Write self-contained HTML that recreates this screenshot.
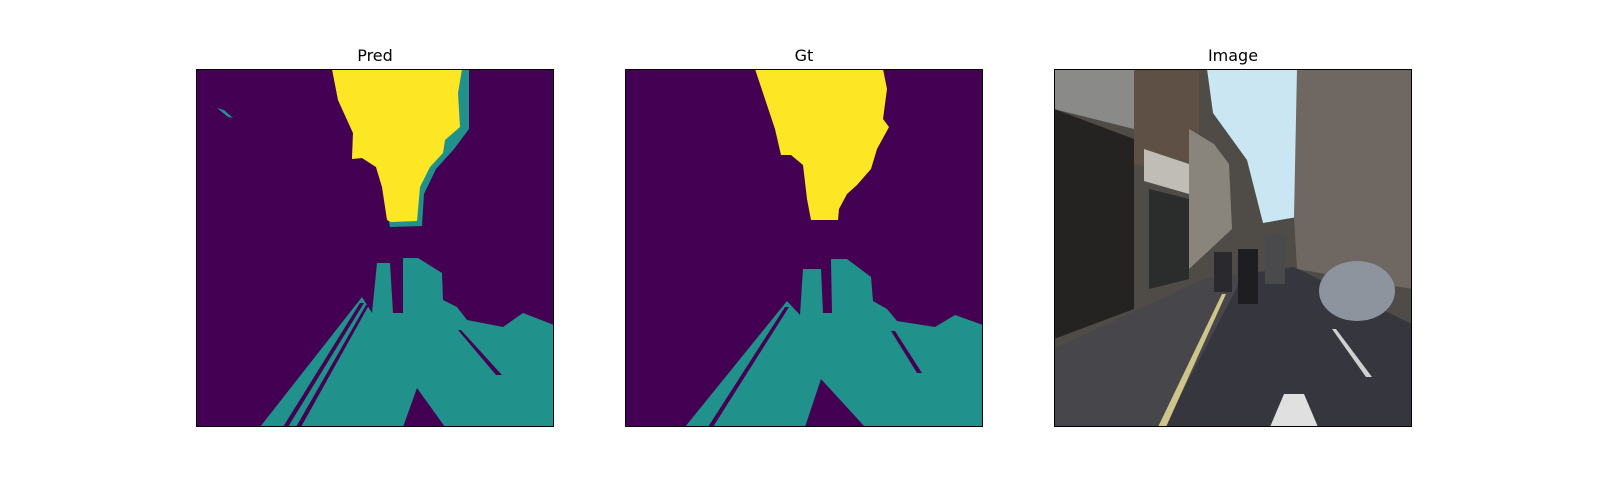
<!DOCTYPE html>
<html><head><meta charset="utf-8"><style>
html,body{margin:0;padding:0;background:#fff;width:1600px;height:500px;overflow:hidden;font-family:"Liberation Sans","DejaVu Sans",sans-serif}
</style></head><body>
<svg width="1600" height="500" viewBox="0 0 1600 500" xmlns="http://www.w3.org/2000/svg">
<defs>
<clipPath id="c"><rect x="0" y="0" width="358" height="358"/></clipPath>
</defs>

<text x="375" y="61" font-size="16" text-anchor="middle" fill="#000" font-family="DejaVu Sans, sans-serif">Pred</text>
<g transform="translate(196,69)" clip-path="url(#c)">
<rect width="358" height="358" fill="#440154"/>
<polygon fill="#21918c" points="136,0 273,0 273,60 258,80 240,100 228,125 226,157 194,158 186,118 180,98 166,89 156,90 157,64 142,31"/>
<polygon fill="#fde725" points="136,0 266,0 262,24 264,58 249,71 247,84 234,98 224,118 221,152 195,153 191,151 186,118 180,98 166,89 156,90 157,64 142,31"/>
<polygon fill="#21918c" points="21,39 28,41 37,49 32,48"/>
<polygon fill="#21918c" points="64,358 166,228 176,244 181,194 194,194 197,244 207,244 207,189 222,189 246,204 247,231 261,238 271,251 307,258 327,244 358,256 358,358"/>
<polygon fill="#440154" points="221,319 207,358 249,358"/>
<polygon fill="#440154" points="164,234 168,234 92,358 87,358"/>
<polygon fill="#440154" points="170,236 173,236 105,358 100,358"/>
<polygon fill="#440154" points="262,261 265,261 306,306 300,306"/>
</g>
<rect x="196.5" y="69.5" width="357" height="357" fill="none" stroke="#000" stroke-width="1"/>

<text x="804" y="61" font-size="16" text-anchor="middle" fill="#000" font-family="DejaVu Sans, sans-serif">Gt</text>
<g transform="translate(625,69)" clip-path="url(#c)">
<rect width="358" height="358" fill="#440154"/>
<polygon fill="#fde725" points="130,0 258,0 262,20 258,50 264,58 252,80 246,100 232,116 222,125 214,140 213,151 186,151 182,130 178,96 166,86 156,86 150,60 140,30"/>
<polygon fill="#21918c" points="60,358 162,232 175,246 178,200 196,200 198,244 207,244 206,190 222,190 246,208 248,232 262,240 272,252 310,258 330,246 358,256 358,358"/>
<polygon fill="#440154" points="196,310 180,358 240,358"/>
<polygon fill="#440154" points="160,238 164,238 88,358 83,358"/>
<polygon fill="#440154" points="266,262 270,262 297,304 292,304"/>
</g>
<rect x="625.5" y="69.5" width="357" height="357" fill="none" stroke="#000" stroke-width="1"/>

<text x="1233" y="61" font-size="16" text-anchor="middle" fill="#000" font-family="DejaVu Sans, sans-serif">Image</text>
<g transform="translate(1054,69)" clip-path="url(#c)">
<rect width="358" height="358" fill="#4f4b47"/>
<polygon fill="#c9e6f2" points="153,0 283,0 258,60 243,148 209,154 193,91 159,44"/>
<polygon fill="#6e6762" points="243,0 358,0 358,220 243,200 240,148"/>
<polygon fill="#8a8a88" points="0,0 80,0 80,60 0,40"/>
<polygon fill="#5e5044" points="80,0 145,0 145,110 80,95"/>
<polygon fill="#252321" points="0,40 80,70 80,240 0,270"/>
<polygon fill="#bfbdb6" points="90,80 135,95 135,125 90,112"/>
<polygon fill="#2b2c2c" points="95,120 135,130 135,210 95,220"/>
<polygon fill="#8a857c" points="135,60 160,75 175,95 178,160 135,200"/>
<polygon fill="#46464b" points="0,280 150,210 190,205 110,358 0,358"/>
<polygon fill="#36373e" points="110,358 190,205 240,198 358,255 358,358"/>
<polygon fill="#cfc58a" points="168,225 172,225 112,358 104,358"/>
<polygon fill="#e0e0e0" points="230,325 250,325 264,358 216,358"/>
<polygon fill="#d0d0d0" points="278,260 282,260 318,308 312,308"/>
<ellipse cx="303" cy="222" rx="38" ry="30" fill="#8e949e"/>
<rect x="184" y="180" width="20" height="55" fill="#1e1e22"/>
<rect x="211" y="165" width="20" height="50" fill="#4a4a4c"/>
<rect x="160" y="183" width="18" height="40" fill="#2a2a2e"/>
</g>
<rect x="1054.5" y="69.5" width="357" height="357" fill="none" stroke="#000" stroke-width="1"/>
</svg>
</body></html>
